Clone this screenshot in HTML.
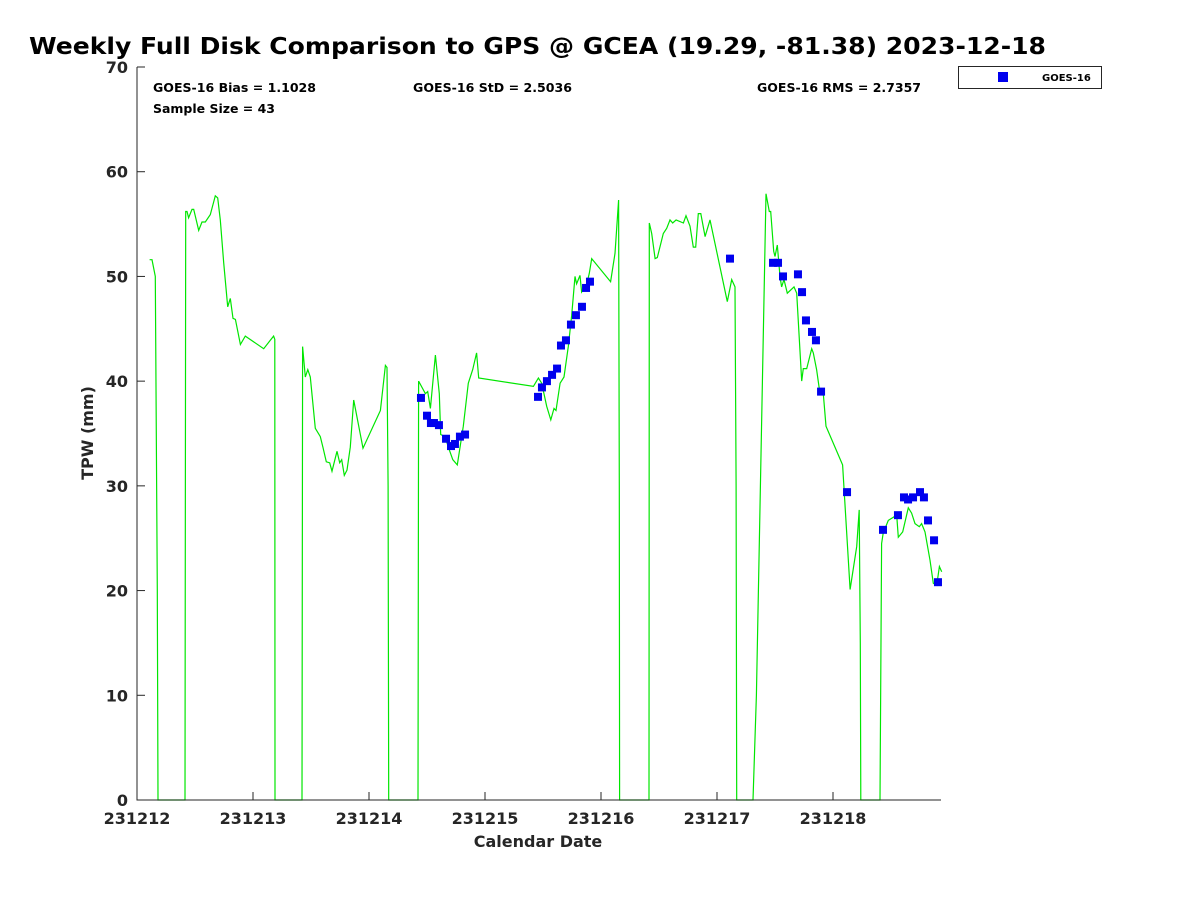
<!DOCTYPE html>
<html><head><meta charset="utf-8"><style>
body{margin:0;background:#fff;}
svg text{font-family:"DejaVu Sans","Liberation Sans",sans-serif;font-weight:bold;fill:#262626;}
</style></head><body>
<svg id="chart" width="1200" height="900" xmlns="http://www.w3.org/2000/svg">
<rect width="1200" height="900" fill="#fff"/>
<text x="29" y="54" font-size="23" textLength="1017" lengthAdjust="spacingAndGlyphs" style="fill:#000">Weekly Full Disk Comparison to GPS @ GCEA (19.29, -81.38) 2023-12-18</text>
<g id="plot"></g>
<text x="153" y="92" font-size="12" textLength="163" lengthAdjust="spacingAndGlyphs" style="fill:#000">GOES-16 Bias = 1.1028</text>
<text x="153" y="113" font-size="12" textLength="122" lengthAdjust="spacingAndGlyphs" style="fill:#000">Sample Size = 43</text>
<text x="413" y="92" font-size="12" textLength="159" lengthAdjust="spacingAndGlyphs" style="fill:#000">GOES-16 StD = 2.5036</text>
<text x="757" y="92" font-size="12" textLength="164" lengthAdjust="spacingAndGlyphs" style="fill:#000">GOES-16 RMS = 2.7357</text>
<g>
<rect x="958.5" y="66.5" width="143" height="22" fill="#fff" stroke="#262626" stroke-width="1"/>
<rect x="998" y="72" width="10" height="10" fill="#0000ee"/>
<text x="1042" y="81" font-size="10" style="fill:#000">GOES-16</text>
</g>
<text x="538" y="847" font-size="16" text-anchor="middle">Calendar Date</text>
<text transform="translate(93,433) rotate(-90)" font-size="16" text-anchor="middle">TPW (mm)</text>
</svg>
<script>
const xTickLabels=["231212","231213","231214","231215","231216","231217","231218"];
const yTicks=[0,10,20,30,40,50,60,70];
const gpsDays=[0.109,0.129,0.158,0.175,0.181,0.414,0.420,0.431,0.445,0.474,0.489,0.532,0.56,0.589,0.632,0.675,0.696,0.718,0.747,0.782,0.804,0.828,0.848,0.891,0.934,1.092,1.149,1.178,1.188,1.19,1.422,1.428,1.451,1.472,1.494,1.537,1.580,1.603,1.632,1.661,1.681,1.724,1.747,1.765,1.787,1.810,1.839,1.868,1.948,2.098,2.141,2.155,2.165,2.17,2.422,2.428,2.486,2.506,2.529,2.572,2.606,2.618,2.655,2.684,2.722,2.761,2.813,2.856,2.894,2.928,2.946,3.417,3.460,3.489,3.532,3.567,3.595,3.612,3.647,3.681,3.718,3.747,3.776,3.790,3.819,3.833,3.876,3.899,3.920,4.083,4.121,4.152,4.158,4.16,4.414,4.416,4.437,4.466,4.485,4.537,4.566,4.595,4.618,4.647,4.710,4.733,4.767,4.796,4.816,4.839,4.860,4.897,4.940,5.089,5.127,5.155,5.165,5.17,5.31,5.34,5.422,5.451,5.463,5.489,5.5,5.520,5.543,5.557,5.578,5.606,5.664,5.687,5.730,5.744,5.773,5.816,5.830,5.859,5.888,5.916,5.940,6.083,6.147,6.204,6.226,6.235,6.24,6.405,6.419,6.433,6.477,6.549,6.563,6.601,6.649,6.678,6.707,6.744,6.764,6.793,6.836,6.865,6.894,6.917,6.937];
const gpsValues=[51.6,51.6,50.0,20,0,0,56.2,56.2,55.6,56.4,56.4,54.4,55.2,55.2,55.9,57.7,57.5,55.4,51.3,47.1,47.9,46.0,45.9,43.5,44.3,43.1,43.9,44.3,44.0,0,0,43.3,40.4,41.1,40.4,35.5,34.7,33.7,32.3,32.2,31.4,33.3,32.2,32.5,31.0,31.5,33.7,38.2,33.6,37.2,41.5,41.3,30,0,0,40.0,38.8,39.0,37.4,42.5,38.8,34.9,34.7,33.7,32.5,32.0,35.7,39.8,41.1,42.7,40.3,39.5,40.3,39.8,37.6,36.3,37.4,37.2,39.8,40.4,43.3,46.3,50.0,49.3,50.1,48.5,49.2,50.3,51.7,49.5,52.2,57.3,30,0,0,55.1,54.1,51.7,51.8,54.1,54.6,55.4,55.1,55.4,55.1,55.8,54.8,52.8,52.8,56.0,56.0,53.8,55.4,47.6,49.7,49.0,30,0,0,10,57.9,56.2,56.2,52.4,51.9,53.0,50.0,49.0,49.7,48.4,49.0,48.4,40.0,41.2,41.2,43.1,42.7,41.1,38.8,38.8,35.7,32.0,20.1,24.2,27.7,15,0,0,24.5,25.5,26.7,27.2,25.1,25.6,27.9,27.4,26.4,26.1,26.4,25.6,22.9,20.7,20.5,22.3,21.8];
const goesDays=[2.448,2.5,2.534,2.56,2.603,2.664,2.707,2.741,2.784,2.828,3.457,3.491,3.534,3.578,3.621,3.655,3.698,3.741,3.784,3.836,3.871,3.905,5.112,5.483,5.526,5.569,5.698,5.733,5.767,5.819,5.853,5.897,6.121,6.431,6.560,6.612,6.647,6.69,6.75,6.784,6.819,6.871,6.905];
const goesValues=[38.4,36.7,36.0,36.0,35.8,34.5,33.8,34.0,34.7,34.9,38.5,39.4,40.0,40.6,41.2,43.4,43.9,45.4,46.3,47.1,48.9,49.5,51.7,51.3,51.3,50.0,50.2,48.5,45.8,44.7,43.9,39.0,29.4,25.8,27.2,28.9,28.7,28.9,29.4,28.9,26.7,24.8,20.8];

const NS="http://www.w3.org/2000/svg";
const X0=137,X1=941,Y0=800,Y1=67,XMAX=(X1-X0)/116,YMAX=70;
function xs(d){return X0+d/XMAX*(X1-X0);}
function ys(v){return Y0-v/YMAX*(Y0-Y1);}
const g=document.getElementById('plot');
function mk(t,a){const e=document.createElementNS(NS,t);for(const k in a)e.setAttribute(k,a[k]);g.appendChild(e);return e;}

let d="";
for(let i=0;i<gpsDays.length;i++){d+=(i?"L":"M")+xs(gpsDays[i]).toFixed(1)+","+ys(gpsValues[i]).toFixed(1);}
const line=mk('path',{d:d,fill:'none',stroke:'#00e600','stroke-width':1.2});



for(let i=0;i<goesDays.length;i++){
  const r=mk('rect',{x:xs(goesDays[i])-4,y:ys(goesValues[i])-4,width:8,height:8,fill:'#0000ee'});
  
  
}

const ax=mk('path',{d:`M${X0},${Y1}V${Y0}H${X1}`,fill:'none',stroke:'#262626','stroke-width':1});


yTicks.forEach(v=>{
  const y=ys(v);
  const t=mk('line',{x1:X0,x2:X0+8,y1:y,y2:y,stroke:'#262626'});
  
  
  const l=mk('text',{x:X0-9,y:y+6,'text-anchor':'end','font-size':16});
  
  
  l.textContent=v;
});
xTickLabels.forEach((s,i)=>{
  const x=xs(i);
  const t=mk('line',{x1:x,x2:x,y1:Y0,y2:Y0-8,stroke:'#262626'});
  
  
  const l=mk('text',{x:x,y:Y0+24,'text-anchor':'middle','font-size':16});
  
  
  l.textContent=s;
});
</script>
</body></html>
